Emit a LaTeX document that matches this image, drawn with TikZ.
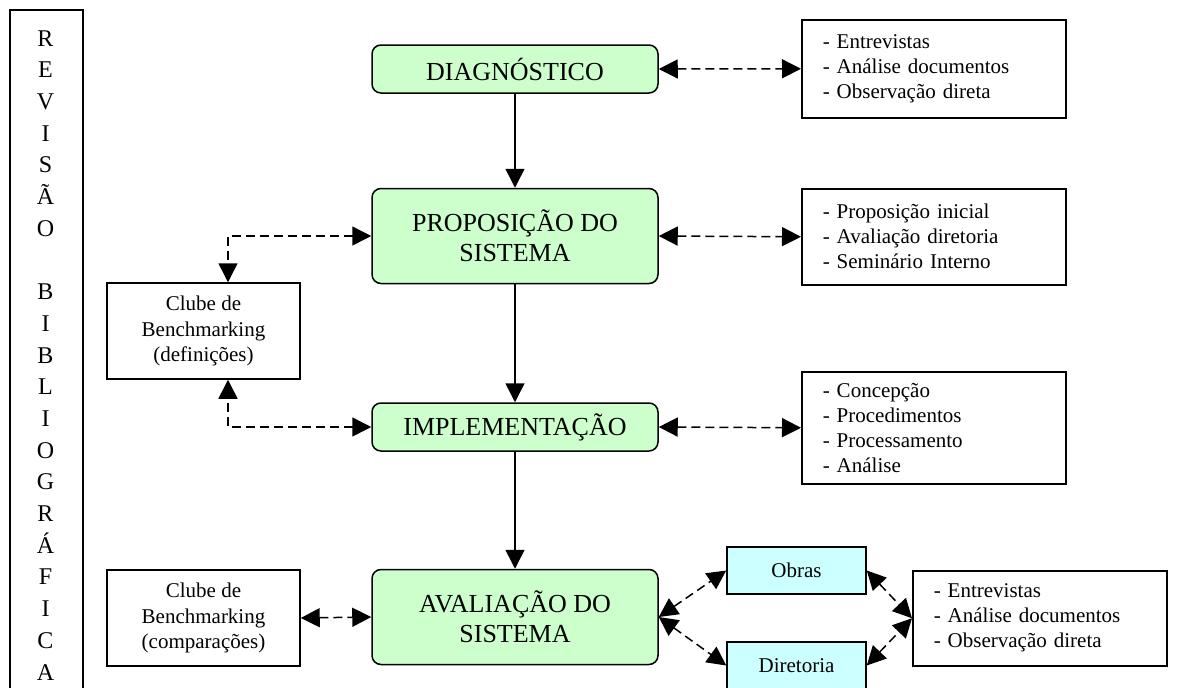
\documentclass[tikz,border=0pt]{standalone}
\usepackage{fontspec}
\setmainfont{Liberation Serif}
\usetikzlibrary{arrows.meta,calc}
\definecolor{stagegreen}{HTML}{CCFFCC}
\definecolor{sidecyan}{HTML}{CCFFFF}
\begin{document}
\begin{tikzpicture}[x=1pt,y=-1pt,
  stage/.style={draw, line width=1.5pt, fill=stagegreen, rounded corners=9pt,
    minimum width=286pt, align=center, inner sep=0pt,
    font=\fontsize{26}{30}\selectfont},
  listbox/.style={draw, line width=1.5pt, fill=white, align=left, anchor=north west,
    inner xsep=21pt, inner ysep=0pt, font=\fontsize{21}{25}\selectfont},
  clubbox/.style={draw, line width=1.5pt, fill=white, align=center, inner sep=0pt,
    minimum width=193pt, minimum height=96pt, font=\fontsize{21}{25.5}\selectfont},
  tagbox/.style={draw, line width=1.5pt, fill=sidecyan, inner sep=0pt,
    minimum width=139pt, minimum height=47pt, font=\fontsize{21}{25}\selectfont},
  flow/.style={-{Triangle[length=19pt,width=19pt]}, line width=1.5pt},
  link/.style={{Triangle[length=19pt,width=19pt]}-{Triangle[length=19pt,width=19pt]},
    line width=1.5pt, dash pattern=on 9pt off 5pt},
  letter/.style={font=\fontsize{24}{24}\selectfont, inner sep=0pt, anchor=base}
]
\useasboundingbox (0,0) rectangle (1181,688);

% vertical frame on the left with the spelled-out title
\node[draw, line width=1.5pt, anchor=north west, minimum width=73pt,
      minimum height=700pt, inner sep=0pt] (revbox) at (9,9) {};
\foreach \ch [count=\i from 0] in {R,E,V,I,S,Ã,O,{},B,I,B,L,I,O,G,R,Á,F,I,C,A}
  \node[letter] (letter\i) at (45.5, 46+31.7*\i) {\ch};

% main stages
\node[stage, minimum height=48pt] (diag) at (515,69) {DIAGNÓSTICO};
\node[stage, minimum height=95pt] (prop) at (515,236) {PROPOSIÇÃO DO\\SISTEMA};
\node[stage, minimum height=48pt] (impl) at (515,427) {IMPLEMENTAÇÃO};
\node[stage, minimum height=95pt] (eval) at (515,617) {AVALIAÇÃO DO\\SISTEMA};

% activity lists on the right
\node[listbox, text width=222pt, minimum height=98pt] (act1) at (801,19)
  {- Entrevistas\\- Análise documentos\\- Observação direta};
\node[listbox, text width=222pt, minimum height=96pt] (act2) at (801,188)
  {- Proposição inicial\\- Avaliação diretoria\\- Seminário Interno};
\node[listbox, text width=222pt, minimum height=112pt] (act3) at (801,371)
  {- Concepção\\- Procedimentos\\- Processamento\\- Análise};
\node[listbox, text width=212pt, minimum height=95pt] (act4) at (912,570)
  {- Entrevistas\\- Análise documentos\\- Observação direta};

% benchmarking club boxes
\node[clubbox] (club1) at (203.5,331) {Clube de\\Benchmarking\\(definições)};
\node[clubbox] (club2) at (203.5,618) {Clube de\\Benchmarking\\(comparações)};

% evaluation targets
\node[tagbox] (obras) at (796.5,570.5) {Obras};
\node[tagbox] (dir) at (796.5,665.5) {Diretoria};

% main flow
\draw[flow] (diag) -- (prop);
\draw[flow] (prop) -- (impl);
\draw[flow] (impl) -- (eval);

% dashed links
\draw[link] (diag.east) -- (act1.west);
\draw[link] (prop.east) -- (act2.west);
\draw[link] (impl.east) -- (act3.west);
\draw[link] (prop.west) -| ([xshift=24.5pt]club1.north);
\draw[link] (impl.west) -| ([xshift=24.5pt]club1.south);
\draw[link] (club2.east) -- (eval.west);
\draw[link] (eval.east) -- (obras.west);
\draw[link] (eval.east) -- (dir.west);
\draw[link] (obras.east) -- (act4.west);
\draw[link] (dir.east) -- (act4.west);
\end{tikzpicture}
\end{document}
